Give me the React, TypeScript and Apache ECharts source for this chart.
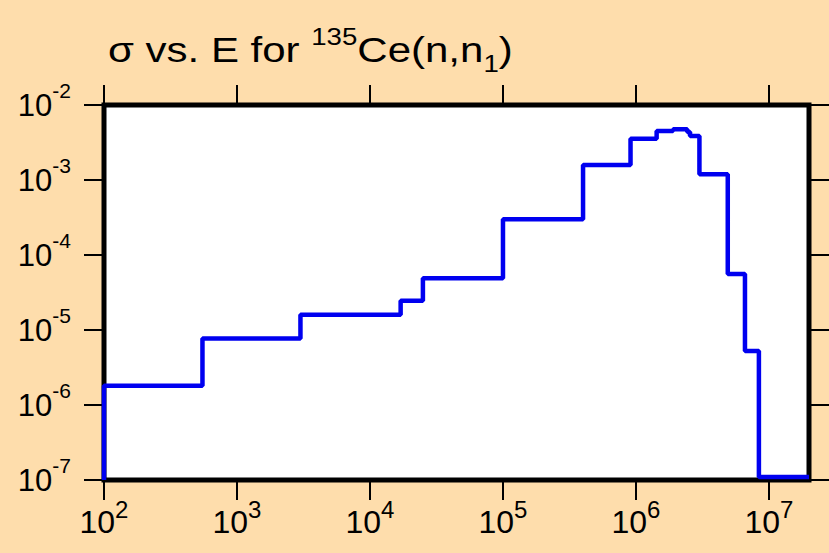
import React, { useEffect, useRef } from "react";
import * as echarts from "echarts";

// Bin edges (eV) and cross-section per bin (b)
const EDGES = [100, 550, 3000, 17000, 25000, 1e5, 4e5, 9.1e5, 1.43e6, 1.9e6, 2.43e6, 2.55e6, 3e6, 4.9e6, 6.6e6, 8.4e6, 2e7];
const VALUES = [1.8e-6, 7.7e-6, 1.6e-5, 2.45e-5, 4.9e-5, 3.0e-4, 1.58e-3, 3.56e-3, 4.5e-3, 4.74e-3, 4.37e-3, 3.86e-3, 1.19e-3, 5.6e-5, 5.25e-6, 1.1e-7];
const START_VALUE = 1e-7;
const X_TICKS = [1e2, 1e3, 1e4, 1e5, 1e6, 1e7];
const Y_TICKS = [1e-7, 1e-6, 1e-5, 1e-4, 1e-3, 1e-2];

const FONT = "'Liberation Sans', Arial, Helvetica, sans-serif";

export default function App() {
  const ref = useRef<HTMLDivElement>(null);
  useEffect(() => {
    document.body.style.margin = "0";
    const chart = echarts.init(ref.current!, null, { renderer: "svg" });
    const pts: [number, number][] = [[EDGES[0], START_VALUE]];
    VALUES.forEach((v, i) => pts.push([EDGES[i], v]));
    pts.push([EDGES[EDGES.length - 1], VALUES[VALUES.length - 1]]);

    const expLabel = (v: number) => `{b|10}{s|${Math.round(Math.log10(v))}}`;
    const tickStyle = { show: true, inside: false, length: 20, lineStyle: { color: "#000", width: 2 } };
    const xCommon = {
      type: "log" as const,
      logBase: 10,
      min: 100,
      max: 2e7,
      splitLine: { show: false },
      axisLine: { show: false },
      minorTick: { show: false },
    };
    const yCommon = {
      type: "log" as const,
      logBase: 10,
      min: 1e-7,
      max: 1e-2,
      splitLine: { show: false },
      axisLine: { show: false },
      minorTick: { show: false },
    };
    chart.setOption({
      animation: false,
      backgroundColor: "#FEDDAC",
      grid: {
        left: 104,
        right: 20,
        top: 105,
        bottom: 73,
        show: true,
        backgroundColor: "#ffffff",
        borderColor: "#000",
        borderWidth: 5,
        containLabel: false,
      },
      graphic: [
        {
          type: "text",
          x: 108,
          y: 25,
          scaleX: 1.2,
          style: {
            x: 0,
            y: 0,
            verticalAlign: "top",
            align: "left",
            text: "{n|σ vs. E for }{sup|135}{n|Ce(n,n}{sub|1}{n|)}",
            fill: "#000",
            rich: {
              n: { fontSize: 35, fontFamily: FONT, fill: "#000", lineHeight: 50, verticalAlign: "middle" },
              sup: { fontSize: 23, fontFamily: FONT, fill: "#000", lineHeight: 14, verticalAlign: "top" },
              sub: { fontSize: 23, fontFamily: FONT, fill: "#000", lineHeight: 29, verticalAlign: "bottom" },
            },
          },
        },
      ],
      xAxis: [
        {
          ...xCommon,
          position: "bottom",
          axisTick: { ...tickStyle, length: 20, customValues: X_TICKS },
          axisLabel: {
            show: true,
            customValues: X_TICKS,
            margin: 17,
            formatter: expLabel,
            rich: {
              b: { fontSize: 32, fontFamily: FONT, color: "#000", lineHeight: 50, verticalAlign: "middle" },
              s: { fontSize: 24, fontFamily: FONT, color: "#000", lineHeight: 22, verticalAlign: "top" },
            },
          },
        },
        {
          ...xCommon,
          position: "top",
          axisTick: { ...tickStyle, length: 20, customValues: X_TICKS },
          axisLabel: { show: false },
        },
      ],
      yAxis: [
        {
          ...yCommon,
          position: "left",
          axisTick: { ...tickStyle, length: 20, customValues: Y_TICKS },
          axisLabel: {
            show: true,
            customValues: Y_TICKS,
            margin: 33,
            formatter: expLabel,
            rich: {
              b: { fontSize: 31, fontFamily: FONT, color: "#000", lineHeight: 50, verticalAlign: "middle" },
              s: { fontSize: 21, fontFamily: FONT, color: "#000", lineHeight: 22, verticalAlign: "top" },
            },
          },
        },
        {
          ...yCommon,
          position: "right",
          axisTick: { ...tickStyle, length: 20, customValues: Y_TICKS },
          axisLabel: { show: false },
        },
      ],
      series: [
        {
          type: "line",
          step: "end",
          data: pts,
          showSymbol: false,
          symbol: "none",
          clip: false,
          lineStyle: { color: "#0000F0", width: 4.5 },
          xAxisIndex: 0,
          yAxisIndex: 0,
          z: 3,
        },
      ],
    });
    return () => chart.dispose();
  }, []);
  return <div ref={ref} style={{ width: 829, height: 553 }} />;
}
